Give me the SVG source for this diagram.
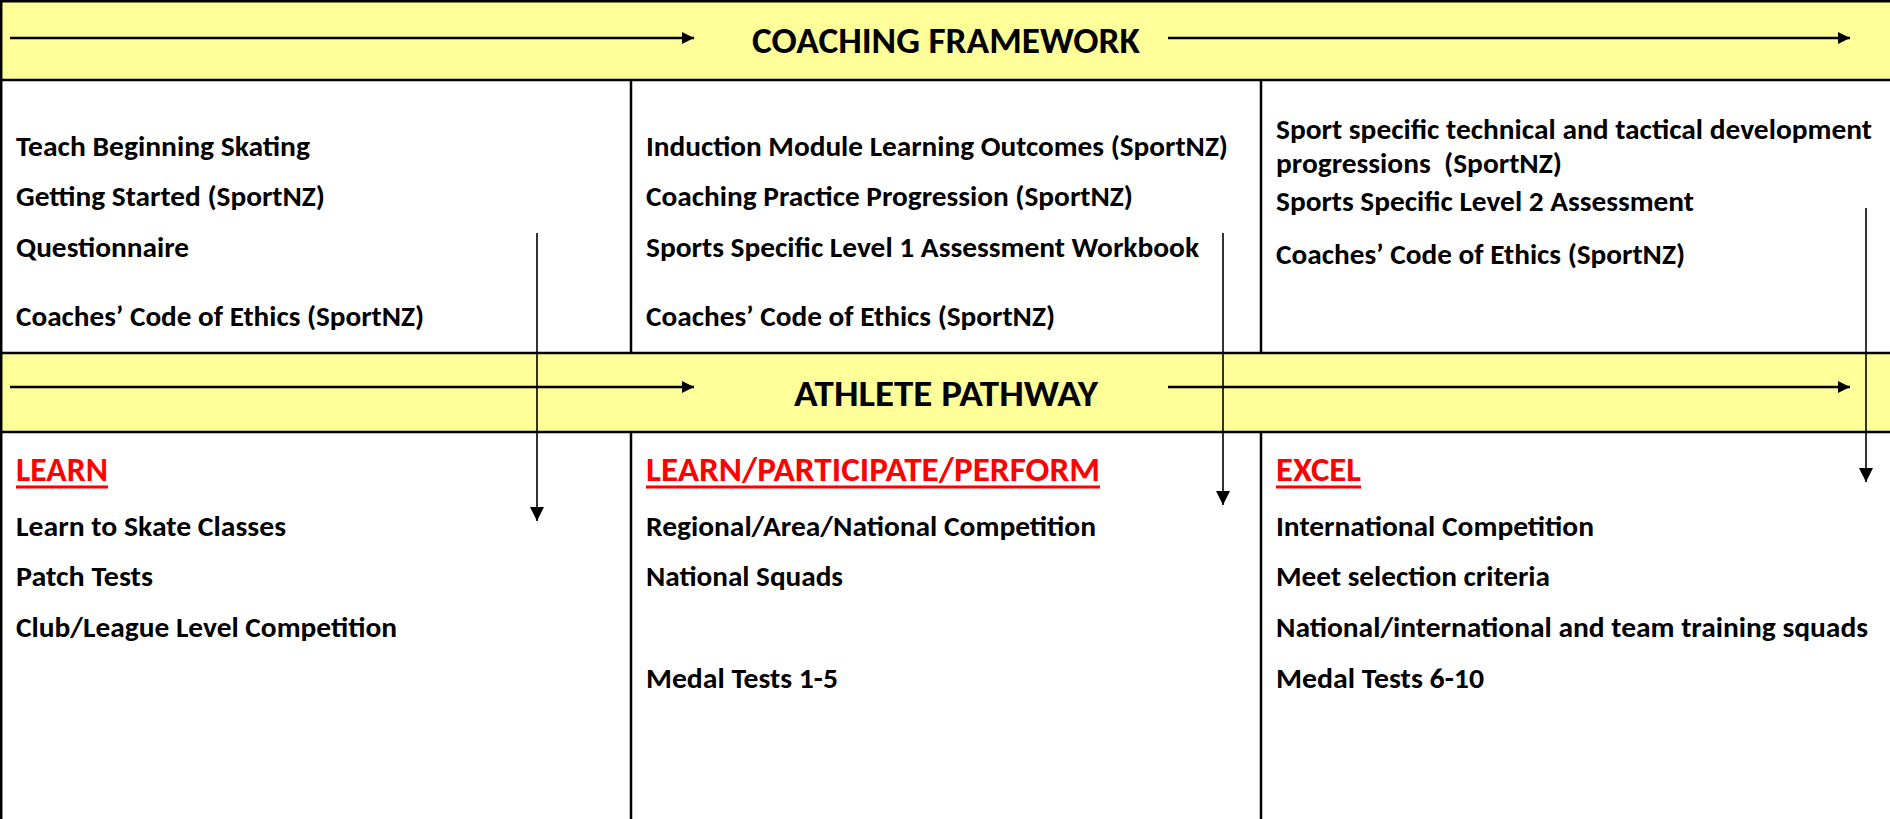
<svg xmlns="http://www.w3.org/2000/svg" width="1890" height="819" viewBox="0 0 1890 819">
<style>
.band{fill:#FFFF99}
.rule{stroke:#000;stroke-width:2.5;fill:none}
.t{font-family:Carlito,Calibri,Lato,"Liberation Sans",sans-serif;font-weight:bold;font-size:29px;fill:#000;white-space:pre}
.h{font-size:37px}
.r{font-size:34px;fill:#FF0000}
.ul{stroke:#FF0000;stroke-width:3}
.ha{stroke:#000;stroke-width:2.5;fill:none}
.va{stroke:#000;stroke-width:1.6;fill:none}
</style>
<defs>
<marker id="ah" viewBox="0 0 10 10" refX="10" refY="5" markerWidth="12" markerHeight="12" markerUnits="userSpaceOnUse" orient="auto">
<path d="M0,0 L10,5 L0,10 Z" fill="#000"/>
</marker>
<marker id="av" viewBox="0 0 10 10" refX="10" refY="5" markerWidth="14" markerHeight="14" markerUnits="userSpaceOnUse" orient="auto">
<path d="M0,0 L10,5 L0,10 Z" fill="#000"/>
</marker>
</defs>
<rect width="1890" height="819" fill="#fff"/>
<g id="frame">
<rect class="band" x="0" y="0" width="1890" height="80"/>
<rect class="band" x="0" y="353" width="1890" height="79"/>
<line class="rule" x1="0" y1="1.2" x2="1890" y2="1.2"/>
<line class="rule" x1="0" y1="80" x2="1890" y2="80"/>
<line class="rule" x1="0" y1="353" x2="1890" y2="353"/>
<line class="rule" x1="0" y1="432" x2="1890" y2="432"/>
<line class="rule" x1="1.2" y1="0" x2="1.2" y2="819"/>
<line class="rule" x1="631" y1="80" x2="631" y2="353"/>
<line class="rule" x1="631" y1="432" x2="631" y2="819"/>
<line class="rule" x1="1261" y1="80" x2="1261" y2="353"/>
<line class="rule" x1="1261" y1="432" x2="1261" y2="819"/>
</g>
<g id="coaching-framework">
<text class="t h" x="752" y="53" textLength="388" lengthAdjust="spacingAndGlyphs">COACHING FRAMEWORK</text>
</g>
<g id="athlete-pathway">
<text class="t h" x="794" y="406" textLength="304" lengthAdjust="spacingAndGlyphs">ATHLETE PATHWAY</text>
</g>
<g id="coach-col1">
<text class="t" x="16" y="156" textLength="294" lengthAdjust="spacingAndGlyphs">Teach Beginning Skating</text>
<text class="t" x="16" y="206" textLength="309" lengthAdjust="spacingAndGlyphs">Getting Started (SportNZ)</text>
<text class="t" x="16" y="257" textLength="173" lengthAdjust="spacingAndGlyphs">Questionnaire</text>
<text class="t" x="16" y="326" textLength="408" lengthAdjust="spacingAndGlyphs">Coaches’ Code of Ethics (SportNZ)</text>
</g>
<g id="coach-col2">
<text class="t" x="646" y="156" textLength="582" lengthAdjust="spacingAndGlyphs">Induction Module Learning Outcomes (SportNZ)</text>
<text class="t" x="646" y="206" textLength="487" lengthAdjust="spacingAndGlyphs">Coaching Practice Progression (SportNZ)</text>
<text class="t" x="646" y="257" textLength="553" lengthAdjust="spacingAndGlyphs">Sports Specific Level 1 Assessment Workbook</text>
<text class="t" x="646" y="326" textLength="409" lengthAdjust="spacingAndGlyphs">Coaches’ Code of Ethics (SportNZ)</text>
</g>
<g id="coach-col3">
<text class="t" x="1276" y="139" textLength="596" lengthAdjust="spacingAndGlyphs">Sport specific technical and tactical development</text>
<text class="t" x="1276" y="173" textLength="286" lengthAdjust="spacingAndGlyphs" xml:space="preserve">progressions  (SportNZ)</text>
<text class="t" x="1276" y="211" textLength="418" lengthAdjust="spacingAndGlyphs">Sports Specific Level 2 Assessment</text>
<text class="t" x="1276" y="264" textLength="409" lengthAdjust="spacingAndGlyphs">Coaches’ Code of Ethics (SportNZ)</text>
</g>
<g id="athlete-col1">
<text class="t r" x="16" y="481" textLength="92" lengthAdjust="spacingAndGlyphs">LEARN</text>
<line class="ul" x1="16" y1="487" x2="108" y2="487"/>
<text class="t" x="16" y="536" textLength="270" lengthAdjust="spacingAndGlyphs">Learn to Skate Classes</text>
<text class="t" x="16" y="586" textLength="137" lengthAdjust="spacingAndGlyphs">Patch Tests</text>
<text class="t" x="16" y="637" textLength="381" lengthAdjust="spacingAndGlyphs">Club/League Level Competition</text>
</g>
<g id="athlete-col2">
<text class="t r" x="646" y="481" textLength="454" lengthAdjust="spacingAndGlyphs">LEARN/PARTICIPATE/PERFORM</text>
<line class="ul" x1="646" y1="487" x2="1100" y2="487"/>
<text class="t" x="646" y="536" textLength="450" lengthAdjust="spacingAndGlyphs">Regional/Area/National Competition</text>
<text class="t" x="646" y="586" textLength="197" lengthAdjust="spacingAndGlyphs">National Squads</text>
<text class="t" x="646" y="688" textLength="192" lengthAdjust="spacingAndGlyphs">Medal Tests 1-5</text>
</g>
<g id="athlete-col3">
<text class="t r" x="1276" y="481" textLength="85" lengthAdjust="spacingAndGlyphs">EXCEL</text>
<line class="ul" x1="1276" y1="487" x2="1361" y2="487"/>
<text class="t" x="1276" y="536" textLength="318" lengthAdjust="spacingAndGlyphs">International Competition</text>
<text class="t" x="1276" y="586" textLength="274" lengthAdjust="spacingAndGlyphs">Meet selection criteria</text>
<text class="t" x="1276" y="637" textLength="592" lengthAdjust="spacingAndGlyphs">National/international and team training squads</text>
<text class="t" x="1276" y="688" textLength="208" lengthAdjust="spacingAndGlyphs">Medal Tests 6-10</text>
</g>
<g id="connectors">
<line class="ha" x1="10" y1="38" x2="694" y2="38" marker-end="url(#ah)"/>
<line class="ha" x1="1168" y1="38" x2="1850" y2="38" marker-end="url(#ah)"/>
<line class="ha" x1="10" y1="387" x2="694" y2="387" marker-end="url(#ah)"/>
<line class="ha" x1="1168" y1="387" x2="1850" y2="387" marker-end="url(#ah)"/>
<line class="va" x1="537" y1="233" x2="537" y2="521" marker-end="url(#av)"/>
<line class="va" x1="1223" y1="233" x2="1223" y2="505" marker-end="url(#av)"/>
<line class="va" x1="1866" y1="208" x2="1866" y2="482" marker-end="url(#av)"/>
</g>
</svg>
